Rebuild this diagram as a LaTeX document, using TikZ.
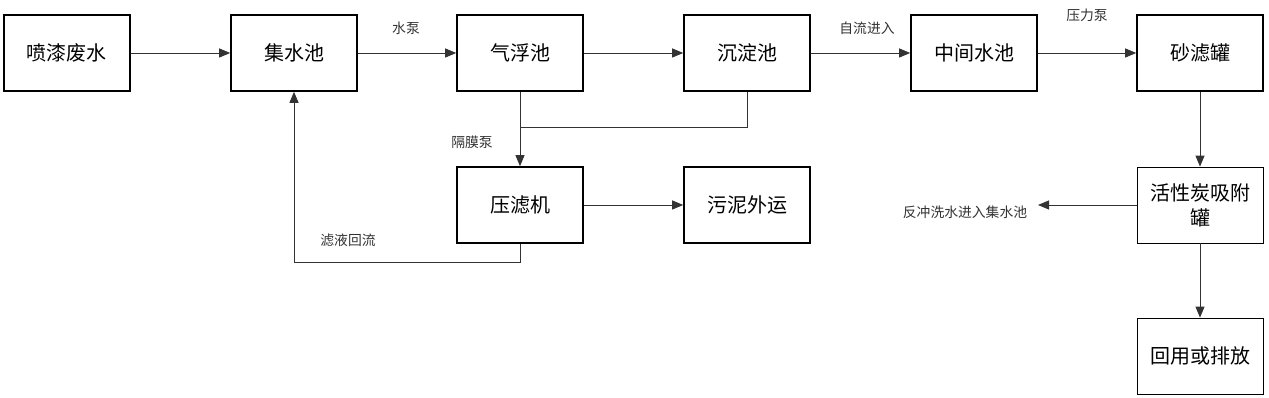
\documentclass[tikz,border=0pt]{standalone}
\usepackage{fontspec}
\setmainfont{Noto Sans CJK SC}
\usetikzlibrary{arrows.meta}
\tikzset{
  box/.style={draw=black,line width=1.6pt,minimum width=126pt,minimum height=76pt,inner sep=0pt,align=center,font=\fontsize{20}{25}\selectfont},
  thinbox/.style={box,line width=0.8pt},
  lbl/.style={inner sep=0pt,font=\fontsize{13.8}{16}\selectfont,text=black!80},
  flow/.style={draw=black!80,line width=0.9pt,-{Triangle[length=11pt,width=9pt]}},
  pipe/.style={draw=black!80,line width=0.9pt}
}
\begin{document}
\begin{tikzpicture}[x=1pt,y=1pt,line cap=butt,line join=miter]
\useasboundingbox (0,0) rectangle (1269,398);
% top row
\node[box] (waste) at (67,345) {喷漆废水};
\node[box] (collect) at (294,345) {集水池};
\node[box] (flot) at (520,345) {气浮池};
\node[box] (settle) at (747,345) {沉淀池};
\node[box] (mid) at (974,345) {中间水池};
\node[box] (sand) at (1200,345) {砂滤罐};
% lower part
\node[box] (press) at (520,193) {压滤机};
\node[box] (sludge) at (747,193) {污泥外运};
\node[thinbox] (carbon) at (1200,193) {活性炭吸附\\罐};
\node[thinbox] (reuse) at (1200,42) {回用或排放};
\coordinate (join) at (520,271);
\coordinate (bwend) at (1038,193);
% labels
\node[lbl] (pumpA) at (406,370) {水泵};
\node[lbl] (gravity) at (867,370) {自流进入};
\node[lbl] (pumpB) at (1087,383) {压力泵};
\node[lbl] (pumpC) at (472,256) {隔膜泵};
\node[lbl] (filtrate) at (348,158) {滤液回流};
\node[lbl] (backwash) at (965,186) {反冲洗水进入集水池};
% connectors
\draw[flow] (waste) -- (collect);
\draw[flow] (collect) -- (flot);
\draw[flow] (flot) -- (settle);
\draw[flow] (settle) -- (mid);
\draw[flow] (mid) -- (sand);
\draw[flow] (flot.south) -- (press.north);
\draw[pipe] (settle.south) |- (join);
\draw[flow] (press) -- (sludge);
\draw[flow] (press.south) -- ++(0,-19) -| (collect.south);
\draw[flow] (sand) -- (carbon);
\draw[flow] (carbon.west) -- (bwend);
\draw[flow] (carbon) -- (reuse);
\end{tikzpicture}
\end{document}
